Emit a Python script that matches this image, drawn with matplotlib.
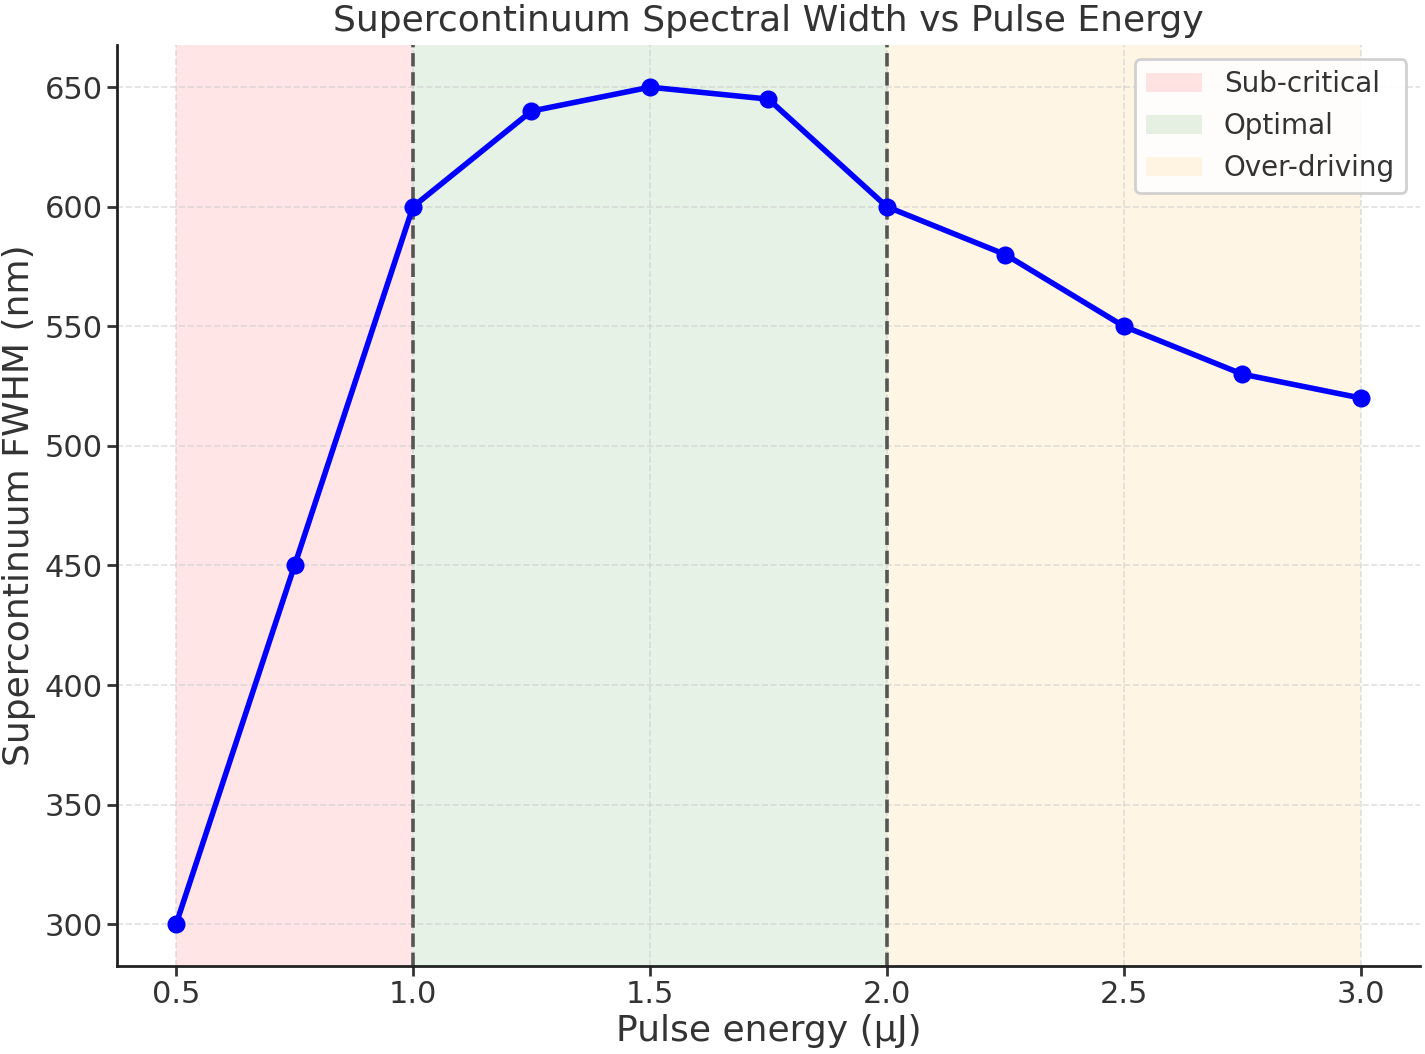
import matplotlib
matplotlib.use("Agg")
import matplotlib.pyplot as plt

# pulse energy (uJ) vs supercontinuum width (nm)
energy = [0.5, 0.75, 1.0, 1.25, 1.5, 1.75, 2.0, 2.25, 2.5, 2.75, 3.0]
fwhm = [300, 450, 600, 640, 650, 645, 600, 580, 550, 530, 520]

# regime boundaries
regions = [
    ("Sub-critical", 0.5, 1.0, "red"),
    ("Optimal", 1.0, 2.0, "green"),
    ("Over-driving", 2.0, 3.0, "orange"),
]
boundaries = [1.0, 2.0]

text_col = "#333333"
plt.rcParams["font.family"] = "DejaVu Sans"
plt.rcParams["text.color"] = text_col
plt.rcParams["axes.labelcolor"] = text_col
plt.rcParams["xtick.color"] = text_col
plt.rcParams["ytick.color"] = text_col

fig, ax = plt.subplots(figsize=(7.125, 5.27), dpi=200)
fig.subplots_adjust(left=0.082, right=0.9965, top=0.957, bottom=0.0835)

for label, x0, x1, col in regions:
    ax.axvspan(x0, x1, color=col, alpha=0.1, label=label, lw=0)

for b in boundaries:
    ax.axvline(b, color="#555555", linestyle="--", linewidth=1.3)

ax.plot(energy, fwhm, color="blue", linewidth=2, marker="o", markersize=5.5)

ax.set_title("Supercontinuum Spectral Width vs Pulse Energy", fontsize=13, pad=5)
ax.set_xlabel("Pulse energy (μJ)", fontsize=13, labelpad=2)
ax.set_ylabel("Supercontinuum FWHM (nm)", fontsize=13, labelpad=3)
ax.tick_params(labelsize=11, width=1.0, length=3.5, pad=1.5)

ax.grid(True, linestyle="--", color="#cccccc", alpha=0.6, linewidth=0.6)
for side in ("top", "right"):
    ax.spines[side].set_visible(False)
for side in ("left", "bottom"):
    ax.spines[side].set_linewidth(1.0)
    ax.spines[side].set_color("#222222")

ax.legend(loc="upper right", fontsize=10, framealpha=0.9, edgecolor="#cccccc")

fig.savefig("out.png", dpi=200)
